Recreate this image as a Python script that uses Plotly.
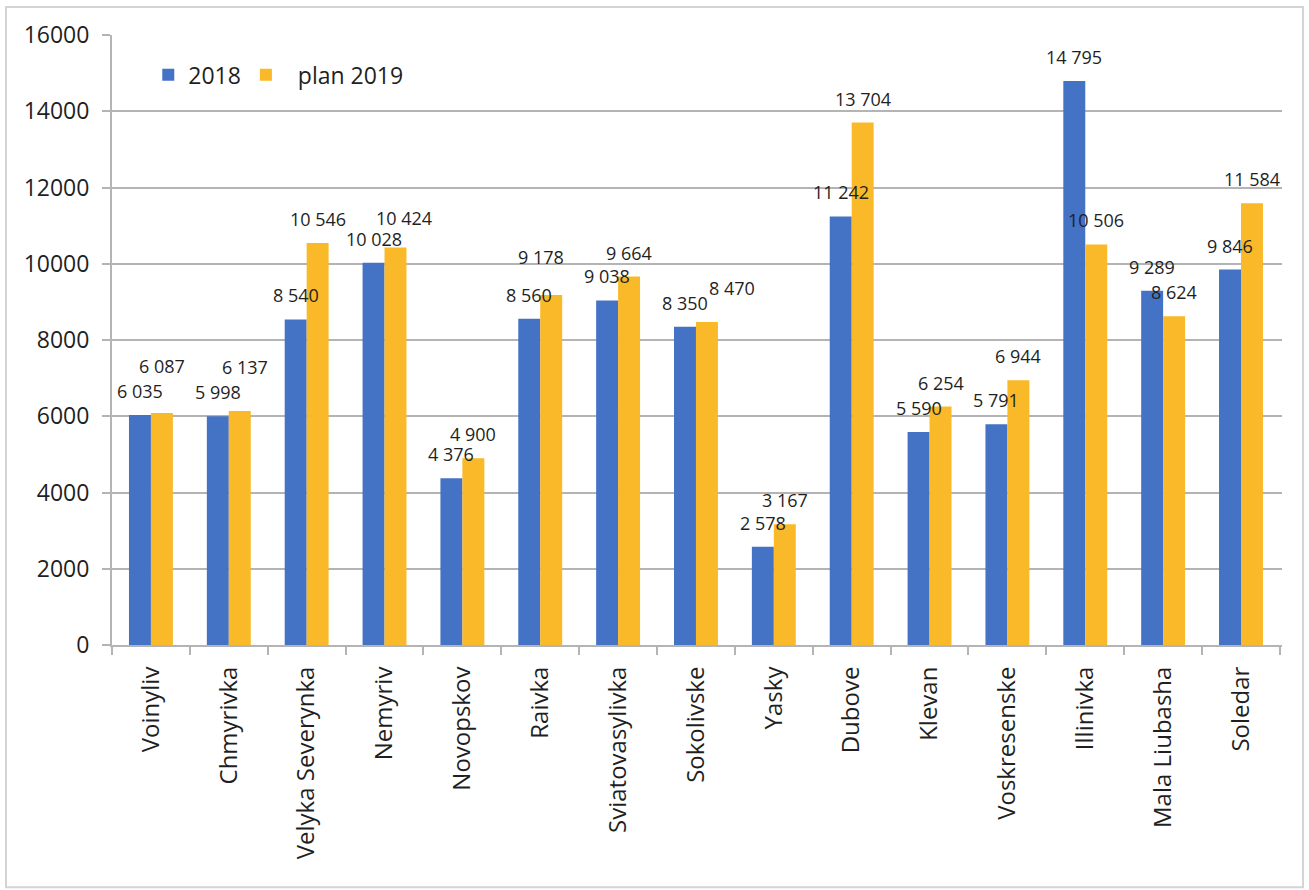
import plotly.graph_objects as go

# Settlements and their values
categories = [
    "Voinyliv", "Chmyrivka", "Velyka Severynka", "Nemyriv", "Novopskov",
    "Raivka", "Sviatovasylivka", "Sokolivske", "Yasky", "Dubove",
    "Klevan", "Voskresenske", "Illinivka", "Mala Liubasha", "Soledar",
]
values_2018 = [6035, 5998, 8540, 10028, 4376, 8560, 9038, 8350, 2578, 11242,
               5590, 5791, 14795, 9289, 9846]
values_2019 = [6087, 6137, 10546, 10424, 4900, 9178, 9664, 8470, 3167, 13704,
               6254, 6944, 10506, 8624, 11584]
y_ticks = [0, 2000, 4000, 6000, 8000, 10000, 12000, 14000, 16000]

# Extra pixel nudges for the value labels that would otherwise collide
nudge_2018 = {}
nudge_2019 = {0: (0, 23), 1: (5, 20), 3: (8, 6), 5: (-10, 14), 7: (25, 10)}

BLUE = "#4472C4"
GOLD = "#F9B928"
TEXT = "#1f1f1f"
GRID = "#b4b4b4"
FONT = "Open Sans"


def fmt(v):
    return f"{v:,}".replace(",", " ")


fig = go.Figure()
fig.add_trace(go.Bar(name="2018", x=categories, y=values_2018,
                     marker=dict(color=BLUE, line=dict(width=0))))
fig.add_trace(go.Bar(name="\u00a0\u00a0plan 2019", x=categories, y=values_2019,
                     marker=dict(color=GOLD, line=dict(width=0))))

annotations = []
for series, nudges, side in ((values_2018, nudge_2018, -11), (values_2019, nudge_2019, 11)):
    for i, (cat, v) in enumerate(zip(categories, series)):
        dx, dy = nudges.get(i, (0, 0))
        annotations.append(dict(
            x=cat, y=v, xref="x", yref="y", text=fmt(v), showarrow=False,
            xanchor="center", yanchor="middle",
            xshift=side + dx, yshift=24 + dy,
            font=dict(family=FONT, size=18, color=TEXT),
        ))

fig.update_layout(
    width=1309, height=890,
    margin=dict(l=112, r=27, t=34.5, b=244.5),
    paper_bgcolor="white", plot_bgcolor="white",
    barmode="group", bargap=0.436, bargroupgap=0,
    font=dict(family=FONT, color=TEXT),
    showlegend=True,
    legend=dict(orientation="h", x=0.031, y=0.97, xanchor="left", yanchor="top",
                font=dict(family=FONT, size=23, color=TEXT),
                bgcolor="rgba(0,0,0,0)", itemwidth=30),
    annotations=annotations,
    shapes=[dict(type="rect", xref="paper", yref="paper",
                 x0=-0.0906, x1=1.018, y0=-0.397, y1=1.0458,
                 line=dict(color="#d4d4d4", width=2), layer="below")],
)

fig.update_xaxes(
    type="category", tickangle=-90,
    tickfont=dict(family=FONT, size=24, color=TEXT),
    showline=True, linecolor=GRID, linewidth=2,
    ticks="outside", tickson="boundaries", ticklen=8, tickcolor=GRID, tickwidth=2,
    ticklabelstandoff=10,
    showgrid=False,
)
fig.update_yaxes(
    range=[0, 16000], tickvals=y_ticks, ticktext=[str(t) for t in y_ticks],
    tickfont=dict(family=FONT, size=23, color=TEXT),
    showgrid=True, gridcolor=GRID, gridwidth=2,
    showline=True, linecolor=GRID, linewidth=2,
    ticks="outside", ticklen=8, tickcolor=GRID, tickwidth=2,
    ticklabelstandoff=8,
    zeroline=False,
)

fig.write_html("out.html")
